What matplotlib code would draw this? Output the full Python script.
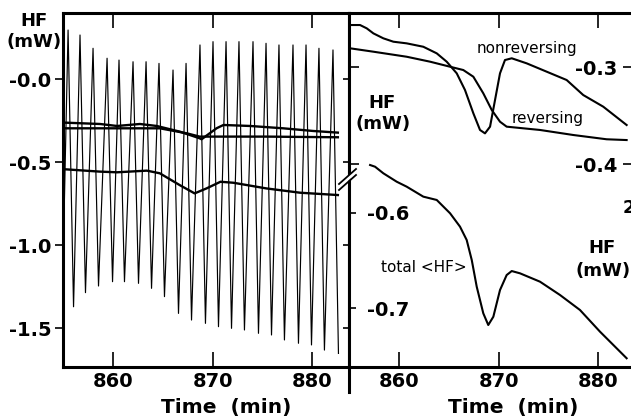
import matplotlib
matplotlib.use("Agg")
import matplotlib.pyplot as plt
from matplotlib.lines import Line2D
from matplotlib.patches import Polygon

plt.rcParams['font.family'] = ['DejaVu Sans']

# ---------------- data ----------------
# left panel: modulated heat flow, peaks and troughs
peak_t = [855.48, 856.68, 857.99, 859.40, 860.60, 862.01, 863.32, 864.62, 866.03, 867.34,
          868.74, 870.05, 871.36, 872.66, 874.07, 875.38, 876.68, 878.09, 879.40, 880.70, 882.11]
peak_v = [0.295, 0.265, 0.185, 0.125, 0.114, 0.104, 0.104, 0.094, 0.054, 0.094,
          0.205, 0.225, 0.225, 0.225, 0.225, 0.215, 0.205, 0.205, 0.205, 0.185, 0.175]
trough_t = [856.03, 857.23, 858.54, 859.95, 861.15, 862.56, 863.87, 865.17, 866.58, 867.89,
            869.29, 870.60, 871.91, 873.21, 874.62, 875.93, 877.23, 878.64, 879.95, 881.25, 882.66]
trough_v = [-1.372, -1.287, -1.247, -1.221, -1.221, -1.231, -1.261, -1.311, -1.412, -1.452,
            -1.472, -1.492, -1.502, -1.512, -1.532, -1.542, -1.572, -1.592, -1.602, -1.633, -1.653]
start_t, start_v = 855.05, -0.90

# left panel smooth curves
lineA_t = [855.2, 858.7, 860.4, 862.7, 864.4, 866.7, 868.7, 868.9, 870.4, 871.1, 873.8, 877.1, 880.1, 882.6]
lineA_v = [-0.263, -0.271, -0.283, -0.271, -0.283, -0.317, -0.357, -0.363, -0.297, -0.277,
           -0.283, -0.297, -0.313, -0.323]
lineB_t = [855.2, 858.7, 862.7, 864.7, 867.4, 868.7, 870.1, 875.4, 882.6]
lineB_v = [-0.297, -0.297, -0.297, -0.297, -0.327, -0.347, -0.347, -0.347, -0.351]
lineC_t = [855.2, 858.7, 860.4, 863.4, 864.7, 866.7, 868.2, 869.4, 870.8, 872.1, 875.4, 878.8, 882.6]
lineC_v = [-0.544, -0.558, -0.562, -0.552, -0.568, -0.639, -0.689, -0.659, -0.619, -0.625,
           -0.659, -0.685, -0.699]

# right panel curves (right scale)
nonrev_t = [855.08, 856.08, 856.75, 857.42, 858.42, 859.43, 860.77, 862.44, 863.79, 864.79,
            865.80, 866.63, 867.47, 868.14, 868.64, 869.15, 869.65, 870.15, 870.65, 871.33,
            872.83, 874.84, 876.85, 878.52, 880.53, 882.88]
nonrev_v = [-0.2567, -0.2567, -0.2601, -0.2653, -0.2704, -0.2739, -0.2756, -0.2791, -0.2859, -0.2945,
            -0.3065, -0.3237, -0.3477, -0.3649, -0.3684, -0.3615, -0.3340, -0.3065, -0.2928, -0.2910,
            -0.2962, -0.3048, -0.3134, -0.3289, -0.3409, -0.3598]
rev_t = [855.08, 857.42, 860.77, 863.12, 865.13, 866.46, 867.47, 868.47, 869.32, 870.15,
         870.82, 874.17, 877.52, 880.87, 882.88]
rev_v = [-0.2807, -0.2842, -0.2894, -0.2945, -0.2997, -0.3031, -0.3100, -0.3271, -0.3443, -0.3564,
         -0.3615, -0.3649, -0.3701, -0.3745, -0.3753]
# right panel total (left scale)
total_t = [857.09, 857.59, 858.42, 859.77, 860.77, 862.44, 863.79, 865.13, 866.13, 866.80,
           867.31, 867.81, 868.47, 868.97, 869.48, 870.15, 870.82, 871.33, 872.16, 874.17,
           876.18, 878.19, 880.20, 882.88]
total_v = [-0.5495, -0.5513, -0.5582, -0.5671, -0.5723, -0.5828, -0.5863, -0.6003, -0.6144, -0.6284,
           -0.6495, -0.6776, -0.7056, -0.7179, -0.7092, -0.6811, -0.6653, -0.6611, -0.6635, -0.6723,
           -0.6863, -0.7021, -0.7249, -0.7529]

xticks = [860, 870, 880]
xticklabels = ["860", "870", "880"]
left_yticks = [0.0, -0.5, -1.0, -1.5]
left_yticklabels = ["-0.0", "-0.5", "-1.0", "-1.5"]
r_left_yticks = [-0.6, -0.7]
r_left_yticklabels = ["-0.6", "-0.7"]
r_right_yticks = [-0.3, -0.4]
r_right_yticklabels = ["-0.3", "-0.4"]

# ---------------- figure ----------------
W, H = 631, 420
fig = plt.figure(figsize=(W / 100, H / 100), dpi=100)

def rect(x0, y0, x1, y1):
    return [x0 / W, 1 - y1 / H, (x1 - x0) / W, (y1 - y0) / H]

def fp(x, y):
    return (x / W, 1 - y / H)

SP = 2.2
TICKFS = 14
tfont = dict(fontsize=TICKFS, fontweight='bold')

# ---- left panel ----
ax1 = fig.add_axes(rect(63, 13, 349, 367))
mod_t = [start_t]
mod_v = [start_v]
for pt, pv, tt, tv in zip(peak_t, peak_v, trough_t, trough_v):
    mod_t += [pt, tt]
    mod_v += [pv, tv]
ax1.plot(mod_t, mod_v, color='black', lw=0.85)
ax1.plot(lineA_t, lineA_v, color='black', lw=1.7)
ax1.plot(lineB_t, lineB_v, color='black', lw=1.7)
ax1.plot(lineC_t, lineC_v, color='black', lw=1.7)
ax1.set_xlim(854.97, 883.72)
ax1.set_ylim(-1.7349, 0.3976)
ax1.set_xticks(xticks)
ax1.set_xticklabels(xticklabels, **tfont)
ax1.set_yticks(left_yticks)
ax1.set_yticklabels(left_yticklabels, **tfont)
ax1.tick_params(axis='x', direction='in', length=11, width=1.2, pad=3.5, top=True)
ax1.tick_params(axis='y', direction='out', length=5.5, width=1.2, pad=3)
for s in ax1.spines.values():
    s.set_linewidth(SP)
ax1.set_xlabel("Time  (min)", fontsize=14.5, fontweight='bold')
ax1.xaxis.set_label_coords((226 - 63) / 286, (367 - 408) / 354)
ax1.xaxis.label.set_va('center')
# inward ticks on the right side of left panel
ax1b = ax1.twinx()
ax1b.set_ylim(ax1.get_ylim())
ax1b.set_yticks(left_yticks)
ax1b.set_yticklabels([])
ax1b.tick_params(axis='y', direction='in', length=4.5, width=1.2)
for s in ax1b.spines.values():
    s.set_visible(False)

# ---- right panel ----
ax2 = fig.add_axes(rect(349, 13, 633, 367))
ax2.plot(total_t, total_v, color='black', lw=1.5)
ax2.set_xlim(854.97, 883.52)
ax2.set_ylim(-0.7621, -0.3895)
ax2.set_xticks(xticks)
ax2.set_xticklabels(xticklabels, **tfont)
ax2.tick_params(axis='x', direction='in', length=11, width=1.2, pad=3.5, top=True)
ax2.set_yticks(r_left_yticks)
ax2.set_yticklabels(r_left_yticklabels, **tfont)
ax2.tick_params(axis='y', direction='in', length=5, width=1.2, pad=-13, right=True)
for t in ax2.get_yticklabels():
    t.set_ha('left')
for s in ax2.spines.values():
    s.set_linewidth(SP)
ax2.set_xlabel("Time  (min)", fontsize=14.5, fontweight='bold')
ax2.xaxis.set_label_coords((513 - 349) / 284, (367 - 408) / 354)
ax2.xaxis.label.set_va('center')

ax2r = ax2.twinx()
ax2r.plot(nonrev_t, nonrev_v, color='black', lw=1.5)
ax2r.plot(rev_t, rev_v, color='black', lw=1.5)
ax2r.set_ylim(-0.6093, -0.2443)
ax2r.set_yticks(r_right_yticks)
ax2r.set_yticklabels(r_right_yticklabels, **tfont)
ax2r.tick_params(axis='y', direction='in', length=7, width=1.2, pad=-11.5, left=True)
for t in ax2r.get_yticklabels():
    t.set_ha('right')
for s in ax2r.spines.values():
    s.set_visible(False)

# labels
bold = dict(fontsize=13, fontweight='bold', ha='center', va='center')
fig.text(*fp(34, 21), "HF", **bold)
fig.text(*fp(34, 42), "(mW)", **bold)
fig.text(*fp(382, 103), "HF", **bold)
fig.text(*fp(383, 124), "(mW)", **bold)
fig.text(*fp(602, 248), "HF", **bold)
fig.text(*fp(603, 271), "(mW)", **bold)
fig.text(*fp(623, 208), "2", fontsize=13, fontweight='bold', ha='left', va='center')

reg = dict(fontsize=11, ha='center', va='center')
fig.text(*fp(527, 48), "nonreversing", **reg)
fig.text(*fp(548, 118), "reversing", **reg)
fig.text(*fp(424, 268), "total <HF>", **reg)

# axis break marks on the divider
fig.patches.append(Polygon([fp(339, 184), fp(356, 169), fp(356, 174), fp(339, 189)],
                           closed=True, facecolor='white', edgecolor='none',
                           transform=fig.transFigure, zorder=5))
for dy in (0, 6):
    fig.lines.append(Line2D([339 / W, 356 / W], [1 - (184 + dy) / H, 1 - (169 + dy) / H],
                            color='black', lw=1.3, transform=fig.transFigure, zorder=6))
# divider extends below the axes
fig.lines.append(Line2D([349 / W, 349 / W], [1 - 367 / H, 1 - 392 / H],
                        color='black', lw=SP, transform=fig.transFigure))

fig.savefig("out.png", dpi=100)
